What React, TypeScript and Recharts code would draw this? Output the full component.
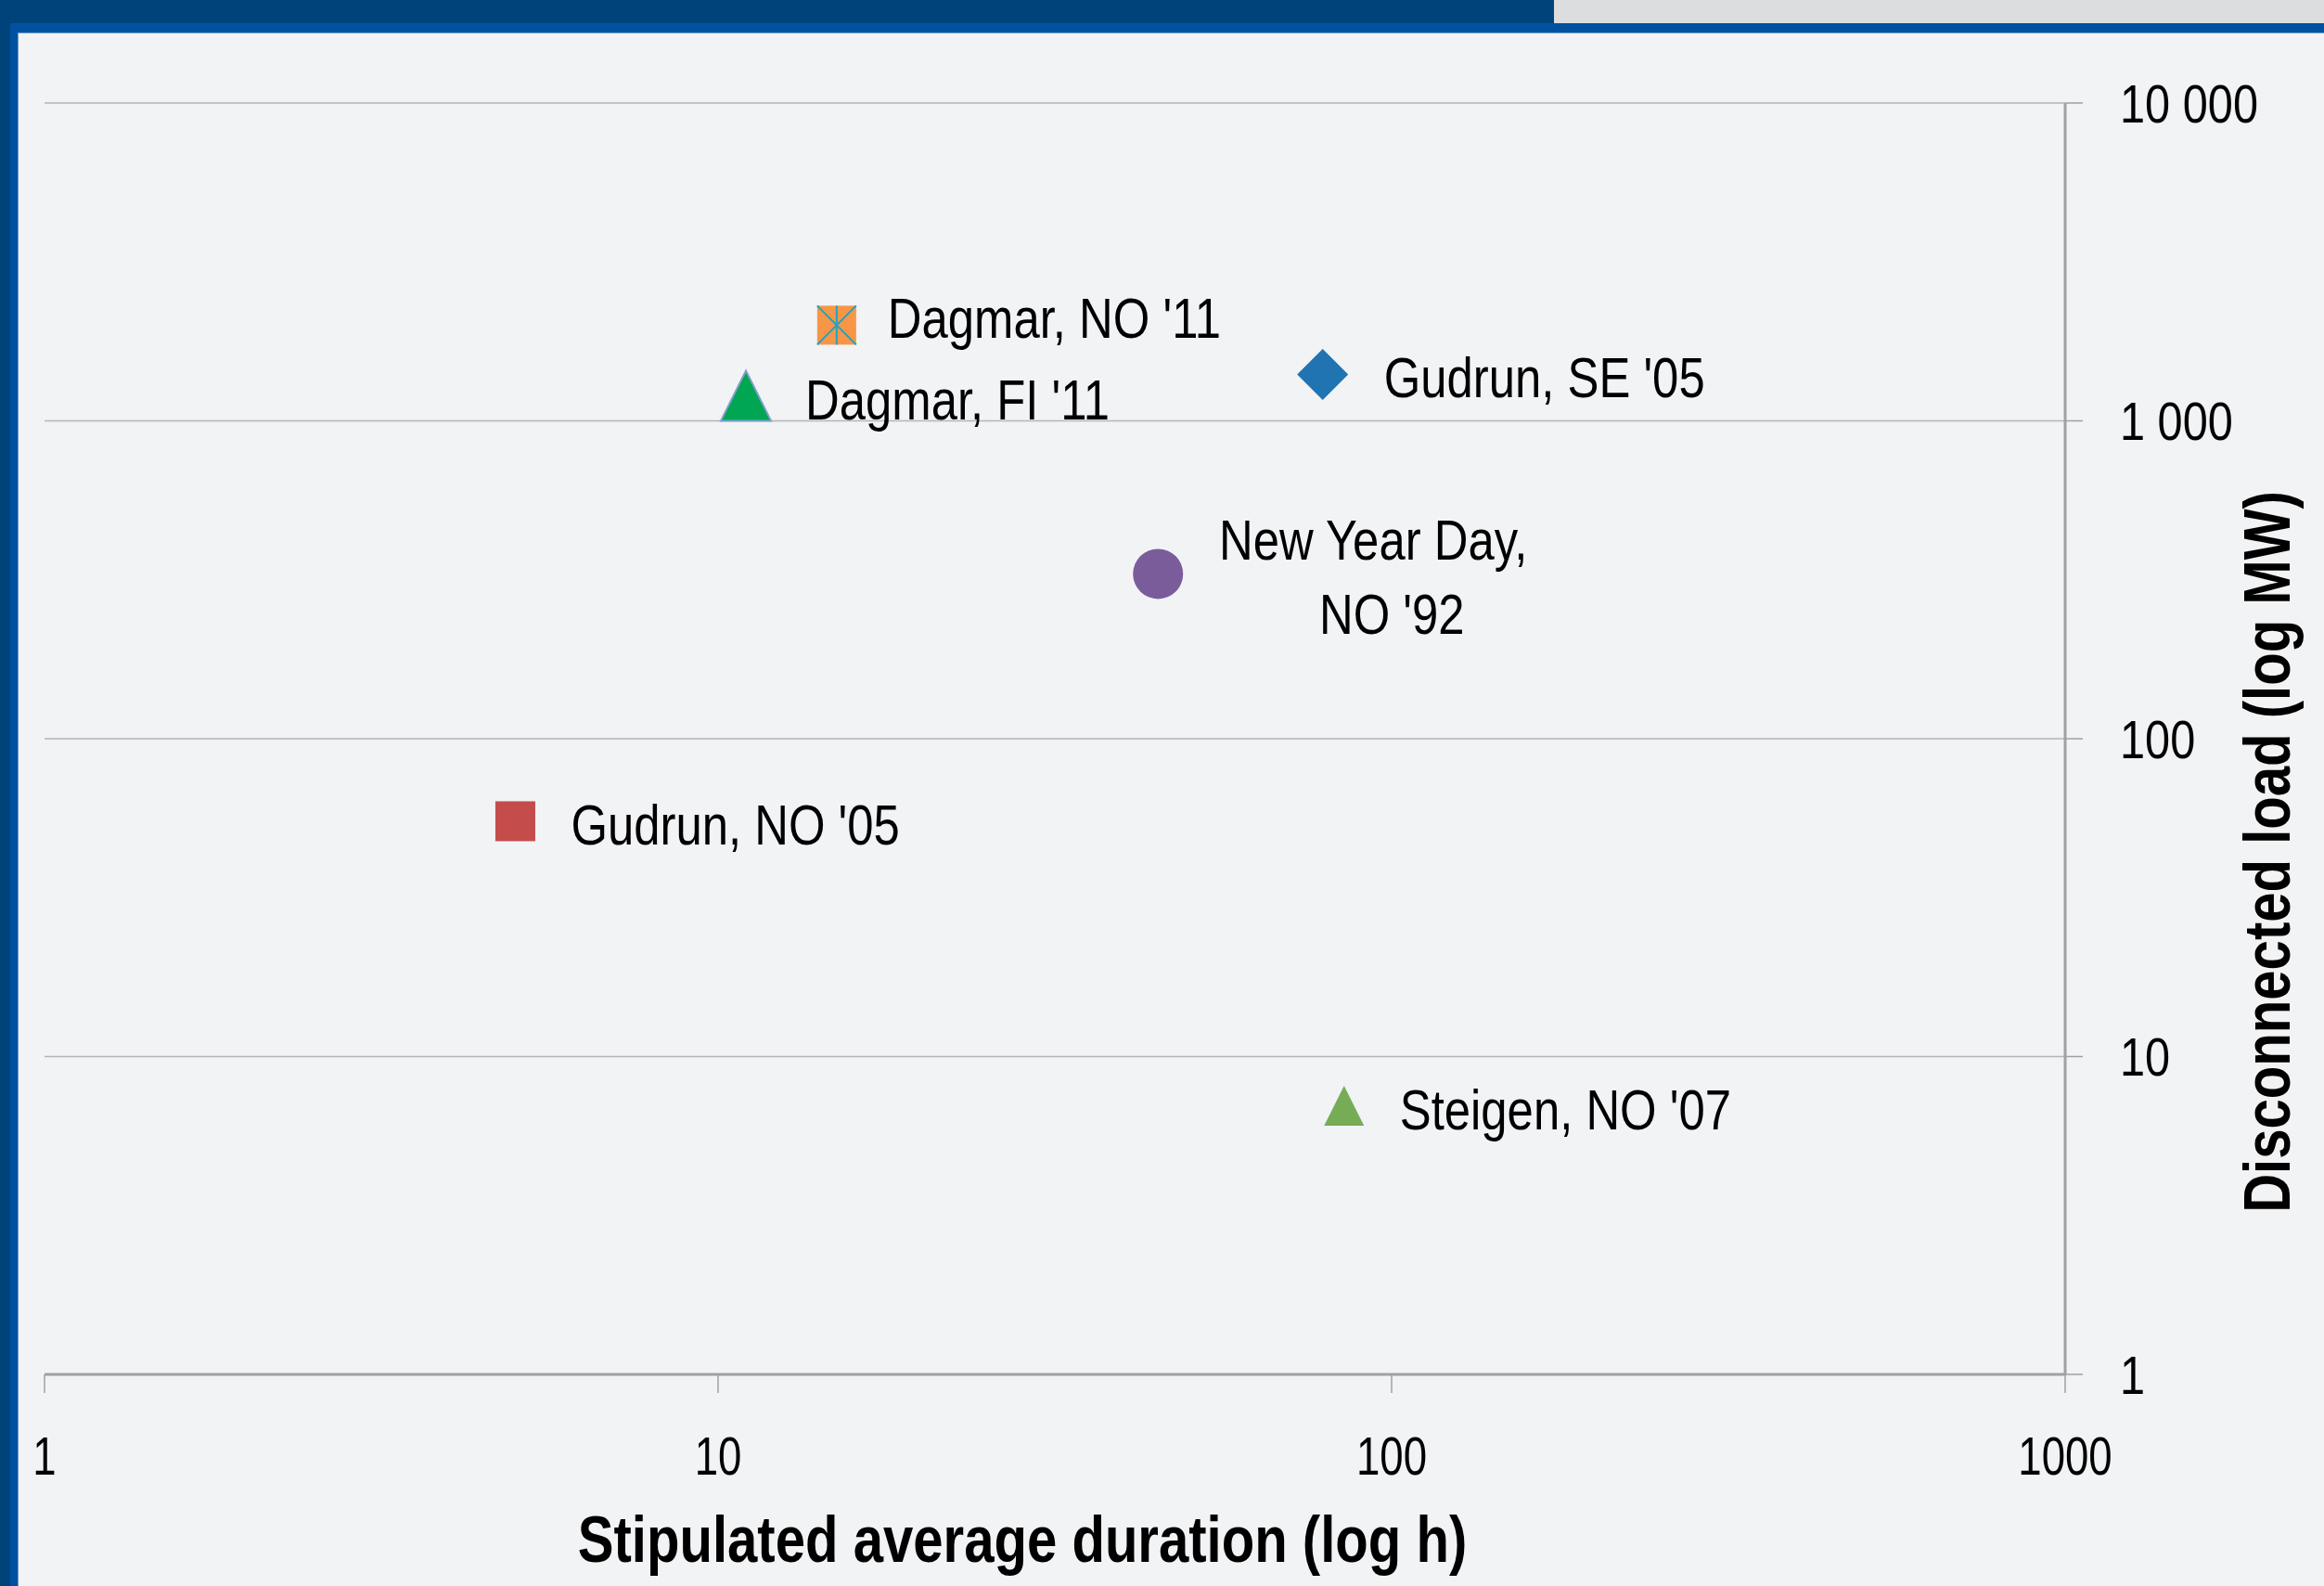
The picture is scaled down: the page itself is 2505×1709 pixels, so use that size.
import React from 'react';
import { ScatterChart, Scatter, XAxis, YAxis, CartesianGrid } from 'recharts';

// events
const events = ["Dagmar, NO '11", "Dagmar, FI '11", "Gudrun, SE '05", "New Year Day,\nNO '92", "Gudrun, NO '05", "Steigen, NO '07"];
const durationHours = [15, 11, 79, 45, 5, 85];
const loadMW = [2000, 1200, 1400, 330, 55, 7];

const xTicks = [1, 10, 100, 1000];
const yTicks = [1, 10, 100, 1000, 10000];

const FONT = "'Liberation Sans', Arial, sans-serif";

// marker look + label offset per event (same order as events)
const markerStyles = [
  { kind: 'squareX', fill: '#F79646', stroke: '#1FA3C4', size: 42, dx: 55, dy: 14 },
  { kind: 'triangle', fill: '#00A651', stroke: '#7F9FCB', size: 54, dx: 64, dy: 26 },
  { kind: 'diamond', fill: '#1F74B1', stroke: 'none', size: 55, dx: 66, dy: 25 },
  { kind: 'circle', fill: '#7B5C9B', stroke: 'none', size: 54, dx: 232, dy: -15, dx2: 252, dy2: 65 },
  { kind: 'square', fill: '#C44D4C', stroke: 'none', size: 43, dx: 60, dy: 25 },
  { kind: 'triangle', fill: '#77AC57', stroke: 'none', size: 43, dx: 60, dy: 25 },
];

const points = events.map((name, i) => ({ name, x: durationHours[i], y: loadMW[i], idx: i }));

const fmtY = (v: number) => String(v).replace(/\B(?=(\d{3})+(?!\d))/g, ' ');

// condensed text: the reference uses a narrow face, so squeeze a regular one
function NarrowText({ x, y, sx = 0.82, anchor = 'start', size = 62, bold = false, rotate = 0, dy, children }: any) {
  return (
    <text
      transform={`translate(${x},${y}) rotate(${rotate}) scale(${sx},1)`}
      x={0}
      y={0}
      dy={dy}
      textAnchor={anchor}
      fontFamily={FONT}
      fontSize={size}
      fontWeight={bold ? 'bold' : 'normal'}
      fill="#000"
    >
      {children}
    </text>
  );
}

const XTick = (props: any) => {
  const { x, y, payload } = props;
  return <NarrowText x={x} y={y} anchor="middle" size={57} sx={0.8} dy="0.71em">{payload.value}</NarrowText>;
};

const YTick = (props: any) => {
  const { x, y, payload } = props;
  return <NarrowText x={x} y={y} anchor="start" size={58} sx={0.84} dy="0.355em">{fmtY(payload.value)}</NarrowText>;
};

const renderPoint = (props: any) => {
  const { cx, cy, payload } = props;
  const st: any = markerStyles[payload.idx];
  const h = st.size / 2;
  let mark: React.ReactNode = null;
  if (st.kind === 'square') {
    mark = <rect x={cx - h} y={cy - h} width={st.size} height={st.size} fill={st.fill} />;
  } else if (st.kind === 'squareX') {
    mark = (
      <g>
        <rect x={cx - h} y={cy - h} width={st.size} height={st.size} fill={st.fill} />
        <line x1={cx - h} y1={cy - h} x2={cx + h} y2={cy + h} stroke={st.stroke} strokeWidth={2} />
        <line x1={cx + h} y1={cy - h} x2={cx - h} y2={cy + h} stroke={st.stroke} strokeWidth={2} />
        <line x1={cx} y1={cy - h} x2={cx} y2={cy + h} stroke={st.stroke} strokeWidth={2} />
      </g>
    );
  } else if (st.kind === 'triangle') {
    mark = (
      <polygon
        points={`${cx},${cy - h} ${cx + h},${cy + h} ${cx - h},${cy + h}`}
        fill={st.fill}
        stroke={st.stroke}
        strokeWidth={st.stroke === 'none' ? 0 : 2}
      />
    );
  } else if (st.kind === 'diamond') {
    mark = <polygon points={`${cx},${cy - h} ${cx + h},${cy} ${cx},${cy + h} ${cx - h},${cy}`} fill={st.fill} />;
  } else {
    mark = <circle cx={cx} cy={cy} r={h} fill={st.fill} />;
  }

  const lines = payload.name.split('\n');
  return (
    <g>
      {mark}
      {lines.length === 1 ? (
        <NarrowText x={cx + st.dx} y={cy + st.dy}>{lines[0]}</NarrowText>
      ) : (
        <g>
          <NarrowText x={cx + st.dx} y={cy + st.dy} anchor="middle">{lines[0]}</NarrowText>
          <NarrowText x={cx + st.dx2} y={cy + st.dy2} anchor="middle">{lines[1]}</NarrowText>
        </g>
      )}
    </g>
  );
};

export default function App() {
  return (
    <div style={{ position: 'absolute', left: 0, top: 0, width: 2505, height: 1709, background: '#F2F3F5', overflow: 'hidden' }}>
      {/* frame decoration */}
      <div style={{ position: 'absolute', left: 0, top: 0, width: 1675, height: 25, background: '#00437A' }} />
      <div style={{ position: 'absolute', left: 1675, top: 0, width: 830, height: 25, background: '#DCDDDF' }} />
      <div style={{ position: 'absolute', left: 0, top: 25, width: 2505, height: 10, background: '#0052A0' }} />
      <div style={{ position: 'absolute', left: 0, top: 0, width: 11, height: 1709, background: '#00437A' }} />
      <div style={{ position: 'absolute', left: 11, top: 25, width: 8, height: 1684, background: '#0052A0' }} />
      <div style={{ position: 'absolute', left: 19, top: 35, width: 2486, height: 1, background: '#6F9BD0' }} />
      <div style={{ position: 'absolute', left: 19, top: 35, width: 1, height: 1674, background: '#6F9BD0' }} />

      <div style={{ position: 'absolute', left: 0, top: 0 }}>
        <ScatterChart width={2505} height={1709} margin={{ top: 111, right: 49, bottom: 28, left: 48 }}>
          <CartesianGrid horizontal vertical={false} stroke="#B3B5B8" strokeWidth={1.5} />
          <XAxis
            type="number"
            dataKey="x"
            scale="log"
            domain={[1, 1000]}
            ticks={xTicks}
            allowDataOverflow
            height={200}
            axisLine={{ stroke: '#9EA1A5', strokeWidth: 3 }}
            tickLine={{ stroke: '#9EA1A5', strokeWidth: 1.5 }}
            tickSize={20}
            tickMargin={48}
            tick={<XTick />}
            interval={0}
            label={{
              content: (p: any) => {
                const vb = p.viewBox;
                return (
                  <NarrowText x={vb.x + vb.width / 2 - 35} y={vb.y + 202} anchor="middle" bold size={70} sx={0.83}>
                    Stipulated average duration (log h)
                  </NarrowText>
                );
              },
            }}
          />
          <YAxis
            type="number"
            dataKey="y"
            scale="log"
            orientation="right"
            domain={[1, 10000]}
            ticks={yTicks}
            allowDataOverflow
            width={230}
            axisLine={{ stroke: '#9EA1A5', strokeWidth: 3 }}
            tickLine={{ stroke: '#9EA1A5', strokeWidth: 1.5 }}
            tickSize={19}
            tickMargin={40}
            tick={<YTick />}
            interval={0}
            label={{
              content: (p: any) => {
                const vb = p.viewBox;
                return (
                  <NarrowText x={vb.x + 242} y={vb.y + 807} rotate={-90} anchor="middle" bold size={70} sx={0.83}>
                    Disconnected load (log MW)
                  </NarrowText>
                );
              },
            }}
          />
          <Scatter data={points} shape={renderPoint} isAnimationActive={false} />
        </ScatterChart>
      </div>
    </div>
  );
}
